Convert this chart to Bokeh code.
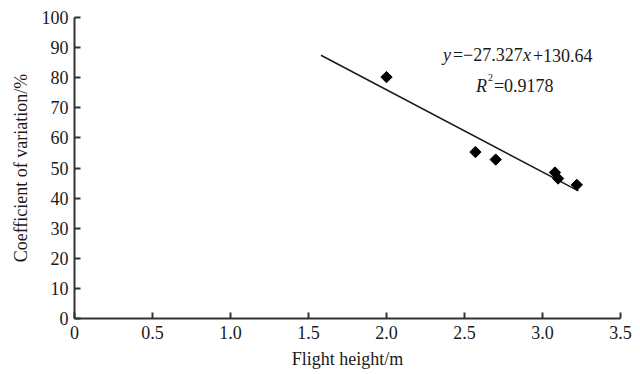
import numpy as np
from bokeh.plotting import figure
from bokeh.models import Range1d, FixedTicker, CustomJSTickFormatter
from bokeh.core.properties import value
from bokeh.embed import file_html
from bokeh.resources import INLINE

# Data
flight_height = [2.00, 2.57, 2.70, 3.08, 3.10, 3.22]
cv_percent = [80.2, 55.3, 52.8, 48.5, 46.5, 44.4]
slope = -27.327
intercept = 130.64
fit_x = [1.58, 3.23]
x_ticks = [0, 0.5, 1.0, 1.5, 2.0, 2.5, 3.0, 3.5]
y_ticks = [0, 10, 20, 30, 40, 50, 60, 70, 80, 90, 100]

FONT = "Liberation Serif"
FS = "18px"
INK = "#1a1a1a"

p = figure(width=632, height=374, output_backend="svg", toolbar_location=None,
           x_range=Range1d(0, 3.5), y_range=Range1d(0, 100),
           min_border_left=74, min_border_right=12, min_border_top=17, min_border_bottom=56)
p.outline_line_color = None
p.xgrid.grid_line_color = None
p.ygrid.grid_line_color = None
p.background_fill_color = "white"

for ax in (p.xaxis[0], p.yaxis[0]):
    ax.axis_line_width = 2
    ax.axis_line_color = "#333333"
    ax.major_tick_line_color = "#333333"
    ax.major_tick_line_width = 2
    ax.major_tick_in = 6
    ax.major_tick_out = 0
    ax.minor_tick_line_color = None
    ax.major_label_text_font = FONT
    ax.major_label_text_font_size = FS
    ax.major_label_text_color = INK
    ax.axis_label_text_font = FONT
    ax.axis_label_text_font_size = FS
    ax.axis_label_text_font_style = "normal"
    ax.axis_label_text_color = INK

p.xaxis.ticker = FixedTicker(ticks=x_ticks)
p.yaxis.ticker = FixedTicker(ticks=y_ticks)
p.xaxis.formatter = CustomJSTickFormatter(code="return tick == 0 ? '0' : tick.toFixed(1);")
p.xaxis.major_label_standoff = 7
p.yaxis.major_label_standoff = 6
p.xaxis.axis_label = "Flight height/m"
p.yaxis.axis_label = "Coefficient of variation/%"
p.xaxis.axis_label_standoff = 7
p.yaxis.axis_label_standoff = 8

# regression line
fit_y = [slope * x + intercept for x in fit_x]
p.line(fit_x, fit_y, line_color="#1a1a1a", line_width=1.5)

# points
p.scatter(flight_height, cv_percent, marker="square", angle=np.pi / 4, size=8,
          fill_color="black", line_color="black")

# equation text
ax0 = 2.362
eq_y = 87.4
r_y = 77.4
segs = [
    ("y", 0, 0, "italic", FS, eq_y),
    ("=\u221227.327", 10, 0, "normal", FS, eq_y),
    ("x", 80, 0, "italic", FS, eq_y),
    ("+130.64", 90, 0, "normal", FS, eq_y),
    ("R", 33, 0, "italic", FS, r_y),
    ("2", 45, -8, "normal", "10px", r_y),
    ("=0.9178", 51, 0, "normal", FS, r_y),
]
for t, dx, dy, style, size, yy in segs:
    p.text(x=[ax0], y=[yy], text=[t], x_offset=dx, y_offset=dy,
           text_font=value(FONT), text_font_size=size, text_font_style=style,
           text_color=INK, text_align="left", text_baseline="alphabetic")

open("out.html", "w").write(file_html(p, INLINE))
